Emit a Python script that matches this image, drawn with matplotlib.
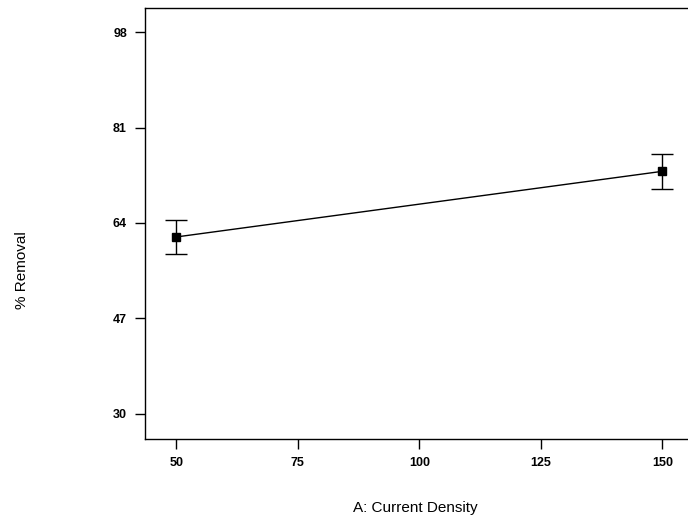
import matplotlib
matplotlib.use("Agg")
import matplotlib.pyplot as plt

plt.rcParams['font.family'] = ['Liberation Sans', 'DejaVu Sans']

current_density = [50, 150]
removal = [61.5, 73.2]
removal_err = [3.0, 3.1]
x_ticks = [50, 75, 100, 125, 150]
y_ticks = [30, 47, 64, 81, 98]

fig = plt.figure(figsize=(6.88, 5.24), dpi=100)
ax = fig.add_axes([0.2108, 0.1622, 0.80, 0.8225])

ax.errorbar(current_density, removal, yerr=removal_err, color='black', lw=1.0,
            marker='s', markersize=6, capsize=8, elinewidth=1.0, capthick=1.0)

ax.set_xlim(43.6, 156.8)
ax.set_ylim(25.5, 102.3)
ax.set_xticks(x_ticks)
ax.set_yticks(y_ticks)
ax.tick_params(axis='both', direction='out', length=7, width=1, labelsize=9, pad=6)
for lab in ax.get_xticklabels() + ax.get_yticklabels():
    lab.set_fontweight('bold')
for s in ax.spines.values():
    s.set_linewidth(1.0)
ax.spines['right'].set_visible(False)

fig.text(0.032, 0.485, '% Removal', rotation=90, ha='center', va='center', fontsize=11)
fig.text(0.603, 0.030, 'A: Current Density', ha='center', va='center', fontsize=11)

fig.savefig('out.png', dpi=100)
